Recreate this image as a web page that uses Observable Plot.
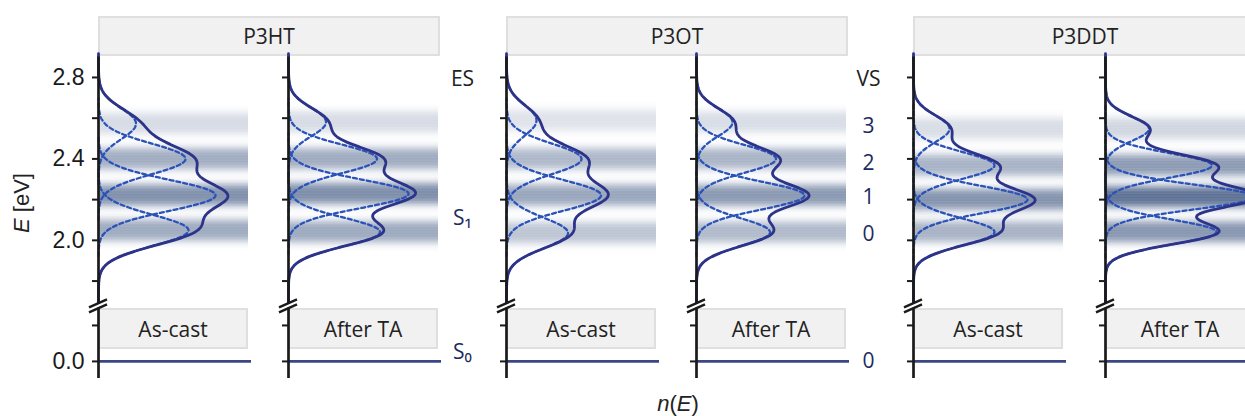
<!DOCTYPE html>
<html>
<head>
<meta charset="utf-8">
<script src="https://cdn.jsdelivr.net/npm/d3@7"></script>
<script src="https://cdn.jsdelivr.net/npm/@observablehq/plot@0.6"></script>
<style>
  html, body { margin: 0; padding: 0; background: #fff; overflow: hidden; }
  #chart { position: relative; width: 1245px; height: 416px; overflow: hidden; font-family: "Open Sans", sans-serif; }
  .box { position: absolute; box-sizing: border-box; background: #f1f1f1; border: 2px solid #dfdfdf;
         color: #222; display: flex; align-items: center; justify-content: center; font-size: 21px; white-space: nowrap; }
  .lbl { position: absolute; transform: translate(-50%, -50%); white-space: nowrap; color: #222;
         font-family: "Liberation Sans", Arial, sans-serif; font-size: 22px; }
  svg.panel g[aria-label="y-axis tick"] path { stroke-width: 2px; stroke: #1a1a1a; }
  svg.panel g[aria-label="y-axis tick label"] { fill: #1a1a1a; }
</style>
</head>
<body>
<div id="chart"></div>
<script>
// ---------------- data ----------------
const polymers = ["P3HT", "P3OT", "P3DDT"];
const treatments = ["As-cast", "After TA"];
const transitions = ["0-0", "0-1", "0-2", "0-3"];
// peak energies (eV) of the vibronic Gaussians, per panel (0-0, 0-1, 0-2, 0-3)
const peakEnergy = [
  [2.049, 2.221, 2.400, 2.573],
  [2.041, 2.229, 2.400, 2.581],
  [2.036, 2.221, 2.400, 2.589],
  [2.040, 2.220, 2.400, 2.580],
  [2.041, 2.200, 2.368, 2.548],
  [2.041, 2.213, 2.368, 2.548]
];
// peak heights n(E) (arbitrary units), per panel
const peakHeight = [
  [0.60, 0.78, 0.58, 0.25],
  [0.61, 0.80, 0.59, 0.25],
  [0.41, 0.63, 0.50, 0.20],
  [0.49, 0.72, 0.53, 0.24],
  [0.54, 0.76, 0.54, 0.24],
  [0.74, 0.99, 0.71, 0.29]
];
// Gaussian standard deviation (eV), per panel
const peakWidth = [0.076, 0.070, 0.075, 0.068, 0.066, 0.060];
// half-width (eV) of the shaded level bands
const bandHalfWidth = 0.058;
// energy axis ticks
const labeledTicks = [0.0, 2.0, 2.4, 2.8];
const unlabeledTicks = [0.2, 1.8, 2.2, 2.6];
// level labels
const stateLabels = ["ES", "S\u2081", "S\u2080"];
const stateEnergy = [2.79, 2.11, 0.05];
const vsLabels = ["VS", "3", "2", "1", "0", "0"];
const vsEnergy = [2.79, 2.56, 2.38, 2.212, 2.03, 0.0];

// ---------------- broken energy axis ----------------
const upperStart = 1.69, lowerEnd = 0.3, gapU = 0.0196, lowerScale = 0.8834;
function toU(E) {
  if (E >= upperStart) return E;
  if (E >= lowerEnd) return upperStart - (upperStart - E) / (upperStart - lowerEnd) * gapU;
  return upperStart - gapU - (lowerEnd - E) * lowerScale;
}
const eMin = -0.095, eMax = 2.9;

// ---------------- layout ----------------
const axisLeft = [98, 288, 506, 696, 913, 1105];
const bandPx = 150;
const yRange = [378, 56.6];
const solidColor = "#2c3388";
const dashColor = "#2a52b8";
const navy = "#1c2b5e";
const chart = document.getElementById("chart");

function gauss(E, c, a, s) { return a * Math.exp(-((E - c) ** 2) / (2 * s * s)); }
function bandShape(E, c, a) { return a * Math.exp(-(Math.abs((E - c) / bandHalfWidth) ** 3)); }
const energyGrid = d3.range(1.70, 2.92, 0.0025);
const bandGrid = d3.range(1.86, 2.72, 0.003);
const bandColor = d3.interpolateRgb("#ffffff", "#3e5680");
const allTicks = [...labeledTicks, ...unlabeledTicks];

// boxes (headers and treatment labels)
polymers.forEach((p, g) => {
  const d = document.createElement("div");
  d.className = "box";
  d.textContent = p;
  const l = axisLeft[2 * g], r = axisLeft[2 * g + 1] + 152;
  Object.assign(d.style, { left: l + "px", top: "16px", width: (r - l) + "px", height: "40px" });
  chart.appendChild(d);
});
axisLeft.forEach((ax, i) => {
  const d = document.createElement("div");
  d.className = "box";
  d.textContent = treatments[i % 2];
  Object.assign(d.style, { left: ax + "px", top: "308px", width: "150px", height: "41px" });
  chart.appendChild(d);
});

// panels
axisLeft.forEach((ax, p) => {
  const ml = p === 0 ? 98 : 14;
  const mr = 40;
  const E0 = peakEnergy[p], A = peakHeight[p], s = peakWidth[p];
  const dashed = transitions.flatMap((t, k) =>
    energyGrid.filter(E => Math.abs(E - E0[k]) < 0.3)
      .map(E => ({ transition: t, E, n: gauss(E, E0[k], A[k], s) })));
  const total = energyGrid.map(E => ({ E, n: d3.sum(transitions, (t, k) => gauss(E, E0[k], A[k], s)) }));
  const strips = bandGrid.map(E => {
    const a = Math.min(1, 0.92 * d3.sum(transitions, (t, k) => bandShape(E, E0[k], A[k])));
    return { y1: E - 0.002, y2: E + 0.002, fill: bandColor(a) };
  });
  const svg = Plot.plot({
    width: ml + bandPx + mr,
    height: 390,
    marginLeft: ml, marginRight: mr, marginTop: 0, marginBottom: 0,
    style: { background: "transparent", overflow: "visible", fontSize: "23px",
             fontFamily: "'Liberation Sans', Arial, sans-serif", color: "#1a1a1a" },
    x: { domain: [0, 1], range: [ml, ml + bandPx], axis: null },
    y: {
      domain: [toU(eMin), eMax], range: yRange, label: null,
      ticks: allTicks.map(toU), tickSize: 6, tickPadding: 8,
      tickFormat: u => {
        const e = allTicks.find(t => Math.abs(toU(t) - u) < 1e-9);
        return (p === 0 && labeledTicks.includes(e)) ? e.toFixed(1) : "";
      }
    },
    color: { type: "identity" },
    marks: [
      Plot.rect(strips, { x1: 0, x2: 1, y1: d => toU(d.y1), y2: d => toU(d.y2), fill: "fill" }),
      Plot.line(dashed, { x: "n", y: d => toU(d.E), z: "transition", stroke: dashColor, strokeWidth: 2.3, strokeDasharray: "4,3" }),
      Plot.line(total, { x: "n", y: d => toU(d.E), stroke: solidColor, strokeWidth: 2.8 }),
      Plot.ruleY([0], { y: d => toU(d), x1: 0, x2: 1.02, stroke: "#3b4684", strokeWidth: 2.6 }),
      Plot.ruleX([0], { y1: toU(eMin), y2: eMax, stroke: "#1a1a1a", strokeWidth: 2.7 })
    ]
  });
  svg.classList.add("panel");
  Object.assign(svg.style, { position: "absolute", left: (ax - ml) + "px", top: "0px" });
  // axis break marks
  const yb = svg.scale("y").apply(toU(1.0));
  const g = d3.select(svg).append("g");
  g.append("path")
    .attr("d", `M${ml - 8},${yb + 2} L${ml + 8},${yb - 5} L${ml + 8},${yb - 1} L${ml - 8},${yb + 6} Z`)
    .attr("fill", "#fff");
  [0, 5].forEach(o => g.append("line")
    .attr("x1", ml - 9).attr("y1", yb + 2.5 + o).attr("x2", ml + 9).attr("y2", yb - 5.5 + o)
    .attr("stroke", "#1a1a1a").attr("stroke-width", 2.4));
  chart.appendChild(svg);
});

// level label columns
function labelColumn(labels, energies, cx, colors) {
  const data = labels.map((label, i) => ({ label, E: energies[i], c: colors[i] }));
  const svg = Plot.plot({
    width: 60, height: 390, margin: 0,
    style: { background: "transparent", overflow: "visible", fontFamily: "'Open Sans', sans-serif" },
    y: { domain: [toU(eMin), eMax], range: yRange, axis: null },
    color: { type: "identity" },
    marks: [Plot.text(data, { y: d => toU(d.E), text: "label", fill: d => d.c, frameAnchor: "middle", fontSize: 21 })]
  });
  Object.assign(svg.style, { position: "absolute", left: (cx - 30) + "px", top: "0px" });
  chart.appendChild(svg);
}
labelColumn(stateLabels, stateEnergy, 462, ["#222", navy, navy]);
labelColumn(vsLabels, vsEnergy, 868, ["#222", navy, navy, navy, navy, navy]);

// axis titles
const yl = document.createElement("div");
yl.className = "lbl";
yl.innerHTML = "<i>E</i> [eV]";
Object.assign(yl.style, { left: "22px", top: "203px", transform: "translate(-50%,-50%) rotate(-90deg)" });
chart.appendChild(yl);
const xl = document.createElement("div");
xl.className = "lbl";
xl.innerHTML = "<i>n</i>(<i>E</i>)";
Object.assign(xl.style, { left: "678px", top: "404px" });
chart.appendChild(xl);
</script>
</body>
</html>
